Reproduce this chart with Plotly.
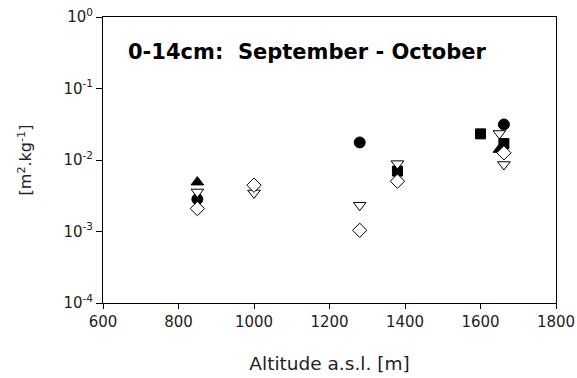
import plotly.graph_objects as go

# Specific surface (m2/kg), 0-14 cm layer, September - October, by site altitude
circle_alt = [850, 1280, 1662]
circle_val = [0.00283, 0.0176, 0.0314]

tri_up_alt = [850, 1650]
tri_up_val = [0.0049, 0.0140]

square_alt = [1380, 1600, 1662]
square_val = [0.0070, 0.0232, 0.0170]

tri_down_alt = [850, 1000, 1280, 1380, 1650, 1662]
tri_down_val = [0.00357, 0.00346, 0.00233, 0.0089, 0.0235, 0.00865]

diamond_alt = [850, 1000, 1280, 1380, 1662]
diamond_val = [0.00209, 0.00444, 0.00104, 0.00505, 0.0126]

x_ticks = [600, 800, 1000, 1200, 1400, 1600, 1800]
y_ticks = [1e-4, 1e-3, 1e-2, 1e-1, 1]
y_tick_text = ["10<sup>-4</sup>", "10<sup>-3</sup>", "10<sup>-2</sup>", "10<sup>-1</sup>", "10<sup>0</sup>"]

FONT = "DejaVu Sans, Arial, sans-serif"

fig = go.Figure()

def add(xs, ys, symbol, size, filled):
    fig.add_trace(go.Scatter(
        x=xs, y=ys, mode="markers", showlegend=False,
        marker=dict(
            symbol=symbol, size=size,
            color="black" if filled else "white",
            line=dict(color="black", width=1),
        ),
    ))

add(circle_alt, circle_val, "circle", 11, True)
add(square_alt, square_val, "square", 10, True)
add(tri_up_alt, tri_up_val, "triangle-up", 11, True)
add(tri_down_alt, tri_down_val, "triangle-down", 11, False)
add(diamond_alt, diamond_val, "diamond", 11, False)

fig.add_annotation(
    x=0.05, y=0.876, xref="paper", yref="paper", xanchor="left", yanchor="middle",
    text="<b>0-14cm:  September - October</b>", showarrow=False,
    font=dict(family=FONT, size=21, color="black"),
)

fig.update_layout(
    width=577, height=378,
    margin=dict(l=103, r=21, t=17, b=75),
    paper_bgcolor="white", plot_bgcolor="white",
    font=dict(family=FONT, size=15, color="#222"),
    xaxis=dict(
        range=[600, 1800], tickvals=x_ticks,
        showgrid=False, zeroline=False, automargin=False,
        showline=True, linecolor="black", linewidth=1, mirror=True,
        ticks="outside", ticklen=5, tickcolor="black",
        title=dict(text="Altitude a.s.l. [m]", font=dict(size=18.5, family=FONT), standoff=27),
    ),
    yaxis=dict(
        type="log", range=[-4, 0],
        tickvals=y_ticks, ticktext=y_tick_text,
        showgrid=False, zeroline=False, automargin=False,
        showline=True, linecolor="black", linewidth=1, mirror=True,
        ticks="outside", ticklen=6, tickcolor="black",
        title=dict(text="[m<sup>2</sup>.kg<sup>-1</sup>]", font=dict(size=16, family=FONT), standoff=27),
    ),
)

fig.write_html("out.html")
